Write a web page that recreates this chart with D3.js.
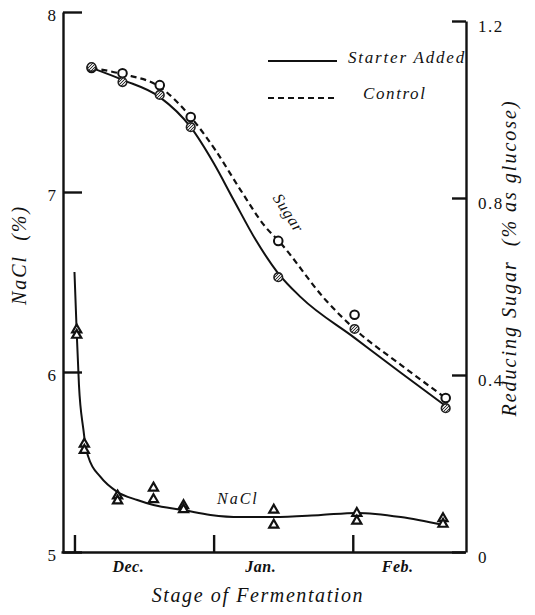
<!DOCTYPE html>
<html>
<head>
<meta charset="utf-8">
<script src="https://cdn.jsdelivr.net/npm/d3@7"></script>
<style>
  body { margin: 0; background: #fff; }
  .axis path, .axis line { stroke: #111; stroke-width: 2.4; }
  text { white-space: pre; }
</style>
</head>
<body>
<div id="chart"></div>
<script>
var serif = "Liberation Serif";

// days counted from Dec 1 (tick at 0 = start of Dec, 31 = Jan, 62 = Feb)
var monthTicks = [0, 31, 62];
var monthLabels = ["Dec.", "Jan.", "Feb."];
var monthLabelDays = [12, 41.5, 72];

var naclTicks = [5, 6, 7, 8];
var sugarTicks = [0, 0.4, 0.8, 1.2];

// sugar sampling days and marker values
var sugarDays = [3.8, 10.7, 19.0, 25.9, 45.4, 62.4, 82.7];
var sugarControl = [1.094, 1.082, 1.055, 0.983, 0.703, 0.536, 0.348];
var sugarStarter = [1.096, 1.062, 1.033, 0.960, 0.621, 0.504, 0.325];

// smooth curves as drawn in the figure
var starterCurveDays = [3.8, 10.7, 19.0, 25.9, 31.0, 35.5, 40.4, 45.3, 50.4, 62.4, 72.7, 82.7];
var starterCurve = [1.094, 1.067, 1.028, 0.960, 0.879, 0.795, 0.705, 0.631, 0.576, 0.484, 0.405, 0.330];
var controlCurveDays = [3.8, 10.7, 19.0, 25.9, 31.4, 37.0, 42.6, 45.5, 56.0, 62.4, 72.7, 82.7];
var controlCurve = [1.094, 1.080, 1.051, 0.983, 0.908, 0.818, 0.734, 0.703, 0.569, 0.504, 0.423, 0.348];

// NaCl triangles (two determinations per day)
var naclDays = [0.5, 2.2, 9.6, 17.6, 24.3, 44.4, 62.9, 82.1];
var naclA = [6.235, 5.600, 5.312, 5.356, 5.258, 5.233, 5.215, 5.186];
var naclB = [6.205, 5.565, 5.285, 5.292, 5.236, 5.150, 5.172, 5.155];

var naclCurveDays = [0.0, 0.5, 1.0, 2.0, 2.5, 3.1, 5.8, 9.6, 14.0, 17.6, 24.3, 30.3, 37.0, 44.4, 54.9, 62.9, 72.7, 82.1];
var naclCurve = [6.556, 6.222, 5.928, 5.678, 5.583, 5.528, 5.417, 5.333, 5.289, 5.261, 5.233, 5.206, 5.194, 5.194, 5.206, 5.217, 5.194, 5.150];

var svg = d3.select("#chart").append("svg")
  .attr("width", 535).attr("height", 615)
  .attr("font-family", serif);

var x = d3.scaleLinear().domain([-3, 87]).range([61, 465]);
var yL = d3.scaleLinear().domain([5, 8]).range([552, 12]);
var yR = d3.scaleLinear().domain([0, 1.2]).range([552, 21]);

// hatch for the starter markers
var defs = svg.append("defs");
var pat = defs.append("pattern").attr("id", "hatch")
  .attr("patternUnits", "userSpaceOnUse").attr("width", 3).attr("height", 3);
pat.append("rect").attr("width", 3).attr("height", 3).attr("fill", "#ddd");
pat.append("path").attr("d", "M0,3 L3,0").attr("stroke", "#333").attr("stroke-width", 1);

function label(sel, size, spacing, italic) {
  return sel.attr("font-family", serif)
    .attr("font-size", size)
    .attr("font-style", italic ? "italic" : "normal")
    .attr("letter-spacing", spacing)
    .attr("fill", "#111");
}

// axes
svg.append("g").attr("class", "axis")
  .attr("transform", "translate(0,552)")
  .call(d3.axisBottom(x).tickValues(monthTicks).tickSizeInner(-17).tickSizeOuter(0).tickFormat(""));

var gl = svg.append("g").attr("class", "axis")
  .attr("transform", "translate(63,0)")
  .call(d3.axisLeft(yL).tickValues(naclTicks).tickSizeInner(-19).tickSizeOuter(0).tickPadding(7).tickFormat(d3.format("d")));
gl.attr("font-family", serif);
label(gl.selectAll("text"), 17, 0, false).attr("dy", "0.5em");

var gr = svg.append("g").attr("class", "axis")
  .attr("transform", "translate(466,0)")
  .call(d3.axisRight(yR).tickValues(sugarTicks).tickSizeInner(-14).tickSizeOuter(0).tickPadding(12)
    .tickFormat(function (d) { return d === 0 ? "0" : d3.format(".1f")(d); }));
gr.attr("font-family", serif);
label(gr.selectAll("text"), 17, 1.5, false).attr("dy", "0.6em");
svg.selectAll(".axis .domain").attr("stroke-width", 2.6);

// month labels
label(svg.selectAll(".month").data(monthLabels).enter().append("text"), 16, 0.5, true)
  .attr("x", function (d, i) { return x(monthLabelDays[i]); })
  .attr("y", 572)
  .attr("text-anchor", "middle")
  .attr("font-weight", "bold")
  .text(function (d) { return d; });

// axis titles
label(svg.append("text"), 20, 1.6, true)
  .attr("x", 258).attr("y", 602).attr("text-anchor", "middle")
  .text("Stage of Fermentation");

label(svg.append("text"), 20, 2, true)
  .attr("transform", "translate(26,255) rotate(-90)")
  .attr("text-anchor", "middle")
  .text("NaCl  (%)");

label(svg.append("text"), 20, 2, true)
  .attr("transform", "translate(516,258) rotate(-90)")
  .attr("text-anchor", "middle")
  .text("Reducing Sugar  (% as glucose)");

// curves
var lineR = d3.line().curve(d3.curveMonotoneX)
  .x(function (d) { return x(d[0]); }).y(function (d) { return yR(d[1]); });
var lineL = d3.line().curve(d3.curveMonotoneX)
  .x(function (d) { return x(d[0]); }).y(function (d) { return yL(d[1]); });

svg.append("path")
  .datum(d3.zip(controlCurveDays, controlCurve))
  .attr("d", lineR).attr("fill", "none").attr("stroke", "#111")
  .attr("stroke-width", 2.2).attr("stroke-dasharray", "6,4");

svg.append("path")
  .datum(d3.zip(starterCurveDays, starterCurve))
  .attr("d", lineR).attr("fill", "none").attr("stroke", "#111").attr("stroke-width", 2);

svg.append("path")
  .datum(d3.zip(naclCurveDays, naclCurve))
  .attr("d", lineL).attr("fill", "none").attr("stroke", "#111").attr("stroke-width", 2);

// sugar markers
svg.selectAll(".ctl").data(d3.zip(sugarDays, sugarControl)).enter().append("circle")
  .attr("cx", function (d) { return x(d[0]); })
  .attr("cy", function (d) { return yR(d[1]); })
  .attr("r", 4.3).attr("fill", "#fff").attr("stroke", "#111").attr("stroke-width", 2);

svg.selectAll(".str").data(d3.zip(sugarDays, sugarStarter)).enter().append("circle")
  .attr("cx", function (d) { return x(d[0]); })
  .attr("cy", function (d) { return yR(d[1]); })
  .attr("r", 4.3).attr("fill", "url(#hatch)").attr("stroke", "#222").attr("stroke-width", 1.6);

// NaCl markers
var tri = d3.symbol().type(d3.symbolTriangle).size(36);
[naclA, naclB].forEach(function (vals) {
  svg.selectAll(null).data(d3.zip(naclDays, vals)).enter().append("path")
    .attr("d", tri)
    .attr("transform", function (d) { return "translate(" + x(d[0]) + "," + yL(d[1]) + ")"; })
    .attr("fill", "#fff").attr("stroke", "#111").attr("stroke-width", 2.2);
});

// curve labels
label(svg.append("text"), 16, 1, true)
  .attr("transform", "translate(284,216) rotate(57)")
  .attr("text-anchor", "middle")
  .text("Sugar");

label(svg.append("text"), 16, 2, true)
  .attr("x", 217).attr("y", 504)
  .text("NaCl");

// legend
svg.append("line").attr("x1", 268).attr("x2", 337).attr("y1", 61).attr("y2", 61)
  .attr("stroke", "#111").attr("stroke-width", 2);
label(svg.append("text"), 17, 1.8, true).attr("x", 348).attr("y", 63).text("Starter Added");
svg.append("line").attr("x1", 268).attr("x2", 337).attr("y1", 98).attr("y2", 98)
  .attr("stroke", "#111").attr("stroke-width", 2).attr("stroke-dasharray", "6,4");
label(svg.append("text"), 17, 1.6, true).attr("x", 363).attr("y", 99).text("Control");
</script>
</body>
</html>
